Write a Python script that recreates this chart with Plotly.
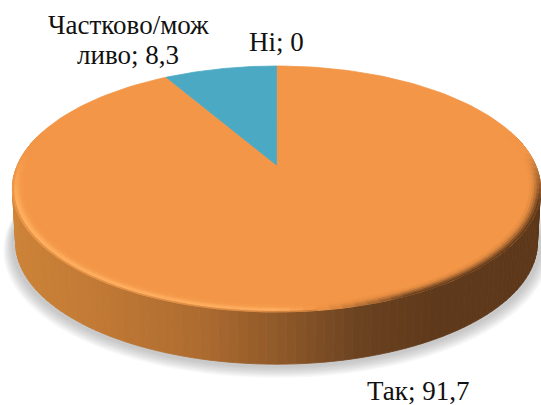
import numpy as np
import plotly.graph_objects as go

categories = ["Так", "Частково/можливо", "Ні"]
values = [91.7, 8.3, 0]

TOP = "#f39647"
TEAL = "#4ba9c4"
SIDE_STOPS = [(-1.0, "#cf8538"), (-0.6, "#c27a35"), (-0.25, "#ae6c30"), (0.02, "#8e5829"),
              (0.25, "#6c4321"), (0.5, "#5f391b"), (1.0, "#5e381a")]

# pie geometry in page pixels, the axes run 0..541 and 405..0
CX, CY = 276.5, 165
BX, AY, K = 259, 118.3, 0.195
DEPTH = 54


def rgb(c):
    return np.array([int(c[i:i + 2], 16) for i in (1, 3, 5)], dtype=float)


def mix(a, b, f):
    f = min(max(f, 0), 1)
    c = rgb(a) * (1 - f) + rgb(b) * f
    return "#%02x%02x%02x" % tuple(int(round(x)) for x in c)


def side_colour(u):
    for (u0, c0), (u1, c1) in zip(SIDE_STOPS, SIDE_STOPS[1:]):
        if u <= u1:
            return mix(c0, c1, (u - u0) / (u1 - u0))
    return SIDE_STOPS[-1][1]


def project(theta, r=1.0, drop=0.0, shrink=1.0):
    # theta runs clockwise from 12 o'clock, the far side of the disc is drawn smaller
    u, v = r * np.sin(theta), r * np.cos(theta)
    w = 1 + K * v
    return CX + shrink * BX * u / w, CY - shrink * AY * v / w + drop


def poly(x, y, colour, line=True):
    return go.Scatter(
        x=list(x) + [x[0]], y=list(y) + [y[0]], mode="lines", fill="toself",
        fillcolor=colour, line=dict(color=colour, width=0.8 if line else 0),
        hoverinfo="skip", showlegend=False,
    )


fig = go.Figure()

circle = np.linspace(0, 2 * np.pi, 181)

# soft shadow under the disc
for i in range(12):
    grow = 1.035 - i * 0.003
    sx, sy = project(circle, drop=DEPTH + 7 - i * 0.5, shrink=grow)
    fig.add_trace(poly(sx, sy, "rgba(120,120,125,0.035)", line=False))

# wedges from the values, clockwise from 12 o'clock
edges = np.radians(np.cumsum([0] + values) * 360 / sum(values))

# side wall of the first slice, only the part facing the viewer shows
start, stop = max(edges[0], np.pi / 2 - 0.25), min(edges[1], 3 * np.pi / 2 + 0.25)
steps = np.linspace(start, stop, 121)
for a, b in zip(steps, steps[1:]):
    xa, ya = project(a)
    xb, yb = project(b)
    xc, yc = project(b, drop=DEPTH, shrink=0.988)
    xd, yd = project(a, drop=DEPTH, shrink=0.988)
    fig.add_trace(poly([xa, xb, xc, xd], [ya, yb, yc, yd], side_colour(np.sin((a + b) / 2))))

# top faces
for a, b, colour in zip(edges, edges[1:], [TOP, TEAL, TEAL]):
    if b <= a:
        continue
    t = np.linspace(a, b, 181)
    x, y = project(t)
    px, py = project(0.0, r=0.0)
    fig.add_trace(poly([px] + list(x), [py] + list(y), colour))

# bevel round the front of the rim
rings = [1.0, 0.992, 0.984, 0.976, 0.968, 0.96]
rim = np.linspace(np.pi / 2 - 0.3, 3 * np.pi / 2 + 0.3, 91)
for a, b in zip(rim, rim[1:]):
    m = (a + b) / 2
    u = np.sin(m)
    front = min(max((0.1 - np.cos(m)) / 0.4, 0), 1)
    for n, (r0, r1) in enumerate(zip(rings, rings[1:])):
        if u < 0.12:
            # lit side, a pale streak just inside the edge
            glow = [0.35, 1.0, 0.75, 0.35, 0.1][n] * front * (1 if u < 0 else (0.12 - u) / 0.12)
            c = mix(TOP, "#ffb061", glow)
            if n == 0:
                c = mix(c, side_colour(u), 0.35 * front)
        else:
            # dark side, the wall colour bleeds into the top
            shade = [0.95, 0.72, 0.45, 0.22, 0.07][n] * front * min((u - 0.12) / 0.3, 1)
            c = mix(TOP, side_colour(u), shade)
        x0, y0 = project(a, r=r0)
        x1, y1 = project(b, r=r0)
        x2, y2 = project(b, r=r1)
        x3, y3 = project(a, r=r1)
        fig.add_trace(poly([x0, x1, x2, x3], [y0, y1, y2, y3], c))

label_font = dict(family="Liberation Serif", size=27, color="#111111")
labels = [
    (128, 25, "Частково/мож"),
    (128, 55, "ливо; 8,3"),
    (276, 42, "Ні; 0"),
    (418, 391, "Так; 91,7"),
]
for x, y, text in labels:
    fig.add_annotation(x=x, y=y, text=text, showarrow=False, font=label_font)

fig.update_layout(
    width=541, height=405, margin=dict(l=0, r=0, t=0, b=0),
    paper_bgcolor="white", plot_bgcolor="white", showlegend=False,
    xaxis=dict(range=[0, 541], visible=False, fixedrange=True),
    yaxis=dict(range=[405, 0], visible=False, fixedrange=True),
)

fig.write_html("out.html", config=dict(displayModeBar=False),
               post_script="document.body.style.margin = '0'; document.body.style.overflow = 'hidden';")
